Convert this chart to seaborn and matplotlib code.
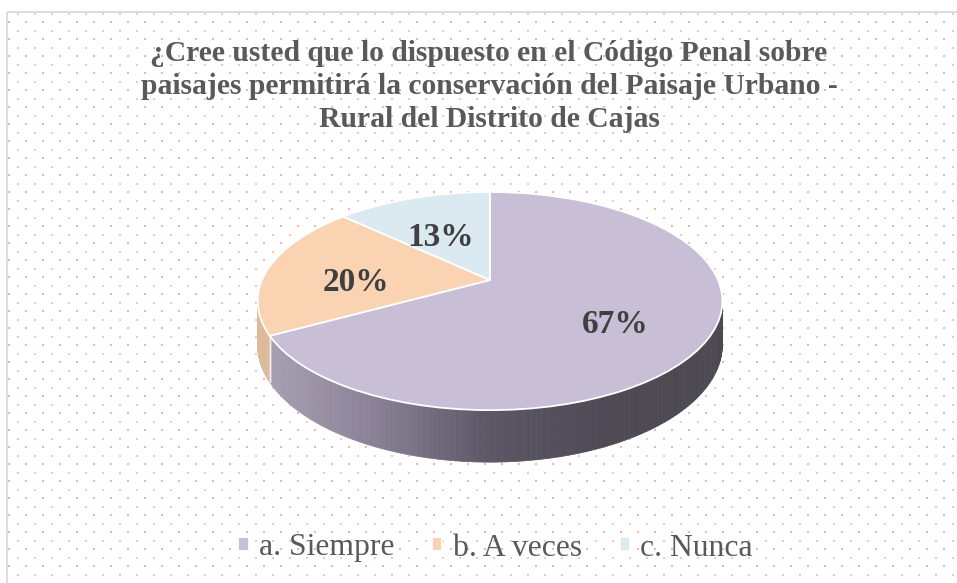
import numpy as np
import matplotlib
matplotlib.use('Agg')
import matplotlib.pyplot as plt
import matplotlib.font_manager as fm
import seaborn as sns
from matplotlib.transforms import Transform, offset_copy
from matplotlib.collections import PolyCollection
from matplotlib.colors import LinearSegmentedColormap
from matplotlib.patches import Rectangle

# data
categories = ['a. Siempre', 'b. A veces', 'c. Nunca']
values = [67, 20, 13]
title = ('¿Cree usted que lo dispuesto en el Código Penal sobre\n'
         'paisajes permitirá la conservación del Paisaje Urbano -\n'
         'Rural del Distrito de Cajas')

top_colors = ['#c8bed6', '#f9d3b2', '#daeaf0']
side_cmaps = [
    LinearSegmentedColormap.from_list('p', ['#aaa2b5', '#8a8196', '#5c5665', '#4e4a54', '#4d4953']),
    LinearSegmentedColormap.from_list('o', ['#dcbb9c', '#d3ae8d']),
    LinearSegmentedColormap.from_list('b', ['#b7c8ce', '#a7b9c0']),
]

sns.set_theme(style='white')


def serif_file(bold):
    want = 'LiberationSerif-Bold.ttf' if bold else 'LiberationSerif-Regular.ttf'
    for f in fm.fontManager.ttflist:
        if f.fname.endswith(want):
            return f.fname
    return None


reg_file, bold_file = serif_file(False), serif_file(True)

# pie geometry in pixels (tilted disc with slight perspective)
CX, CY, RX, RY, B = 490, 280, 228, 105, 0.193
DEPTH = 42


class Tilt(Transform):
    input_dims = output_dims = 2
    is_separable = False
    has_inverse = False

    def __init__(self, dy=0.0):
        super().__init__()
        self.dy = dy

    def transform_non_affine(self, xy):
        xy = np.asarray(xy, dtype=float).reshape(-1, 2)
        x, y = xy[:, 0], xy[:, 1]
        w = 1 + B * y
        return np.column_stack([CX + RX * x / w, CY - RY * y / w + self.dy / w])


fig = plt.figure(figsize=(9.57, 5.83), dpi=100)

# background with dotted pattern and border
bg = fig.add_axes([0, 0, 1, 1])
bg.set_xlim(0, 957)
bg.set_ylim(583, 0)
bg.axis('off')
gx, gy = np.meshgrid(np.arange(9, 957, 17), np.arange(22, 583, 17))
bg.scatter(gx.ravel(), gy.ravel(), s=2.2, marker='s', color='#f1b3b0', linewidths=0)
gx2, gy2 = np.meshgrid(np.arange(17.5, 957, 17), np.arange(13.5, 583, 17))
bg.scatter(gx2.ravel(), gy2.ravel(), s=0.8, marker='s', color='#f4c6c4', linewidths=0)
bg.add_patch(Rectangle((7, 12), 960, 590, fill=False, edgecolor='#d9d9d9', lw=1.3))

ax = fig.add_axes([0, 0, 1, 1])
wedges, texts, autotexts = ax.pie(
    values, colors=top_colors, startangle=90, counterclock=False,
    autopct='%1.0f%%', pctdistance=0.6,
    wedgeprops=dict(edgecolor='white', linewidth=1.3),
    textprops=dict(color='#404040'))
ax.set_xlim(0, 957)
ax.set_ylim(583, 0)
ax.set_aspect('auto')
ax.axis('off')
ax.patch.set_alpha(0)

tilt = Tilt()
for w in wedges:
    w.set_transform(tilt + ax.transData)
    w.set_zorder(3)
label_tr = offset_copy(tilt + ax.transData, fig=fig, y=-7.2, units='points')
for t in autotexts:
    t.set_fontproperties(fm.FontProperties(fname=bold_file, size=24))
    t.set_transform(label_tr)
    t.set_zorder(4)

# side of the disc (front half only)
frac = np.array(values) / np.sum(values)
ends = np.cumsum(frac)
starts = ends - frac
vis_lo, vis_hi = 180 + np.degrees(np.arcsin(B)), 360 - np.degrees(np.arcsin(B))
for i in range(len(values)):
    a_hi = 90 - 360 * starts[i]
    a_lo = 90 - 360 * ends[i]
    for shift in (0, 360, -360):
        lo, hi = max(a_lo + shift, vis_lo), min(a_hi + shift, vis_hi)
        if hi <= lo:
            continue
        t = np.radians(np.linspace(lo, hi, 120))
        pts = np.column_stack([np.cos(t), np.sin(t)])
        top = tilt.transform(pts)
        bot = Tilt(DEPTH).transform(pts)
        quads = [np.array([top[k], top[k + 1], bot[k + 1], bot[k]]) for k in range(len(t) - 1)]
        xm = (top[:-1, 0] + top[1:, 0]) / 2
        cols = side_cmaps[i](np.clip((xm - (CX - RX * 1.02)) / (2 * RX * 1.02), 0, 1))
        ax.add_collection(PolyCollection(quads, facecolors=cols, edgecolors=cols,
                                         linewidths=0.5, zorder=2))
        # thin light seam at slice boundaries on the side
        for edge in (lo, hi):
            if vis_lo + 0.5 < edge < vis_hi - 0.5:
                p = np.array([[np.cos(np.radians(edge)), np.sin(np.radians(edge))]])
                a, b = tilt.transform(p)[0], Tilt(DEPTH).transform(p)[0]
                ax.plot([a[0], b[0]], [a[1], b[1]], color='#f2eef5', lw=1, zorder=2.5)

fig.text(489 / 957, 1 - 127 / 583, title, ha='center', va='baseline',
         color='#595959', linespacing=1.28,
         fontproperties=fm.FontProperties(fname=bold_file, size=21.3))

fig.legend(wedges, categories, loc='center', bbox_to_anchor=(495.5 / 957, 1 - 548 / 583),
           ncol=3, frameon=False, handlelength=0.32, handleheight=0.32,
           handletextpad=0.32, columnspacing=1.2, labelcolor='#595959',
           prop=fm.FontProperties(fname=reg_file, size=22.8))

fig.savefig('out.png', dpi=100, facecolor='white')
